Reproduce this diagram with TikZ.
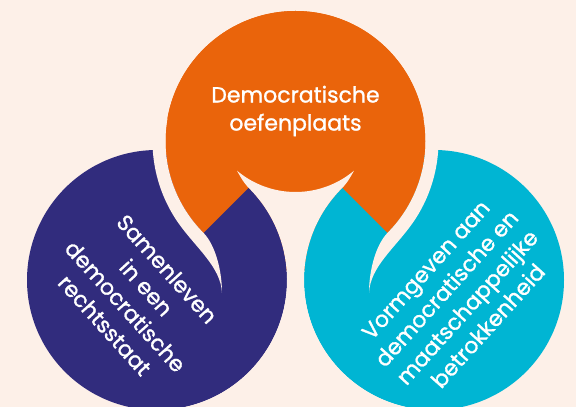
\documentclass[tikz,border=0pt]{standalone}
\usepackage{fontspec}
\setmainfont{Poppins}
\newfontfamily\demofont{Poppins}[FakeBold=1.2]
\usetikzlibrary{calc}
\definecolor{Peach}{HTML}{FDF0E8}
\definecolor{DemoOrange}{HTML}{EA640B}
\definecolor{DemoPurple}{HTML}{312C7D}
\definecolor{DemoCyan}{HTML}{00B5D3}

\begin{document}
\begin{tikzpicture}[x=1pt,y=1pt,
    label text/.style={text=white,align=center,inner sep=0pt,font=\demofont\fontsize{22}{28}\selectfont}]
  \fill[Peach] (0,0) rectangle (576,407);
  \useasboundingbox (0,0) rectangle (576,407);
  \coordinate (O) at (295.5,266);
  \coordinate (P) at (157,127);
  \coordinate (C) at (434,127);
  \coordinate (B) at (295.5,306);
  % the three circles
  \fill[DemoOrange] (O) circle (130pt);
  \fill[DemoPurple] (P) circle (130pt);
  \fill[DemoCyan] (C) circle (130pt);
  % orange lies over the upper halves of both overlaps
  \fill[DemoOrange] (O) -- ($(O)+(-45:130pt)$) arc (-45:225:130pt) -- cycle;
  % white gaps with tapered tails
  \fill[Peach] ($(O)+(170:143pt)$) arc (170:215:143pt)
    .. controls (195.6,159.4) and (221,140) .. (222,114)
    .. controls (222,135) and (216,161) .. ($(O)+(225:130pt)$)
    arc (225:170:130pt) -- cycle;
  \fill[Peach] ($(O)+(10:143pt)$) arc (10:-35:143pt)
    .. controls (395.4,159.4) and (370,140) .. (369,114)
    .. controls (369,135) and (375,161) .. ($(O)+(-45:130pt)$)
    arc (-45:10:130pt) -- cycle;
  \fill[Peach] ($(B)+(230:91pt)$) arc (230:310:91pt)
    .. controls (351.5,232) and (347.8,224.6) .. ($(C)+(135:130pt)$)
    arc (135:265:130pt) -- ($(P)+(275:130pt)$)
    arc (275:405:130pt)
    .. controls (243.2,224.6) and (239.5,232) .. ($(B)+(230:91pt)$) -- cycle;
  % labels
  \node[label text] (oefen) at (295.5,296) {Democratische\\oefenplaats};
  \node[label text,rotate=-48] (samen) at (136,110) {Samenleven\\in een\\democratische\\rechtsstaat};
  \node[label text,rotate=48] (vorm) at (457,109) {Vormgeven aan\\democratische en\\maatschappelijke\\betrokkenheid};
\end{tikzpicture}
\end{document}
